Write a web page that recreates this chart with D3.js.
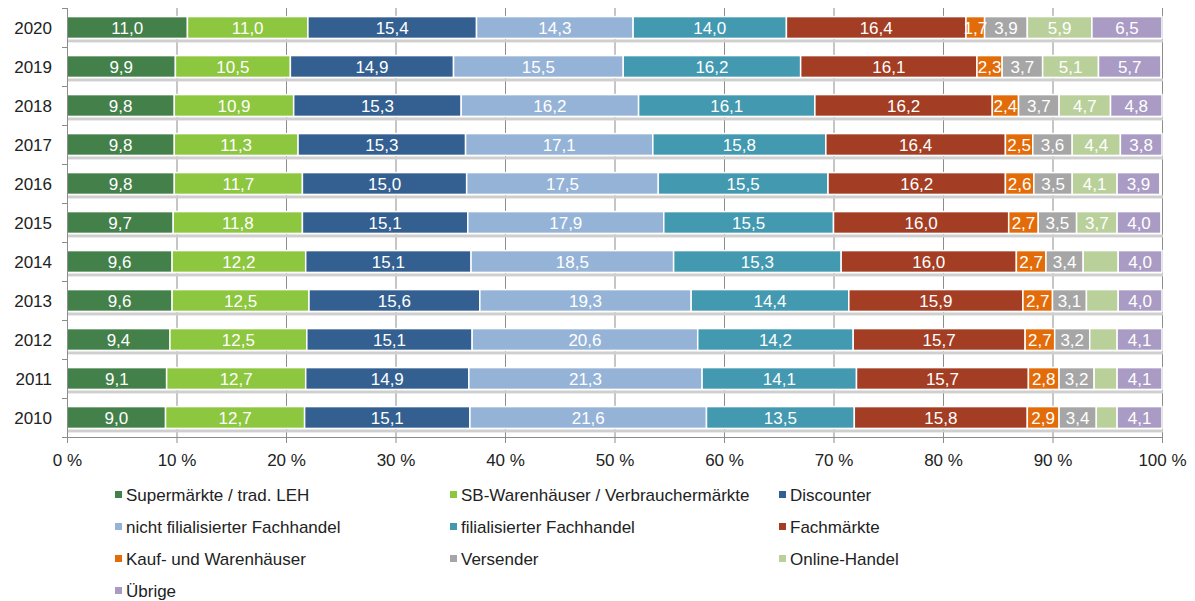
<!DOCTYPE html>
<html><head><meta charset="utf-8">
<script src="https://cdn.jsdelivr.net/npm/d3@7"></script>
<style>
body{margin:0;background:#fff;}
svg{display:block;font-family:"Liberation Sans",Arial,sans-serif;}
</style></head>
<body><svg id="c" width="1195" height="601"></svg>
<script>
const years = ["2020","2019","2018","2017","2016","2015","2014","2013","2012","2011","2010"];
const seriesNames = ["Supermärkte / trad. LEH","SB-Warenhäuser / Verbrauchermärkte","Discounter","nicht filialisierter Fachhandel","filialisierter Fachhandel","Fachmärkte","Kauf- und Warenhäuser","Versender","Online-Handel","Übrige"];
const colors = ["#43804a","#8dc63f","#345f91","#95b3d7","#4299b0","#a33e25","#e36c0a","#a6a6a6","#b9d09a","#a99bc3"];
const supermarkte = [11.0,9.9,9.8,9.8,9.8,9.7,9.6,9.6,9.4,9.1,9.0];
const sbWarenhaeuser = [11.0,10.5,10.9,11.3,11.7,11.8,12.2,12.5,12.5,12.7,12.7];
const discounter = [15.4,14.9,15.3,15.3,15.0,15.1,15.1,15.6,15.1,14.9,15.1];
const nichtFilial = [14.3,15.5,16.2,17.1,17.5,17.9,18.5,19.3,20.6,21.3,21.6];
const filial = [14.0,16.2,16.1,15.8,15.5,15.5,15.3,14.4,14.2,14.1,13.5];
const fachmaerkte = [16.4,16.1,16.2,16.4,16.2,16.0,16.0,15.9,15.7,15.7,15.8];
const kaufhaeuser = [1.7,2.3,2.4,2.5,2.6,2.7,2.7,2.7,2.7,2.8,2.9];
const versender = [3.9,3.7,3.7,3.6,3.5,3.5,3.4,3.1,3.2,3.2,3.4];
const onlineHandel = [5.9,5.1,4.7,4.4,4.1,3.7,3.2,2.9,2.5,2.1,1.9];
const uebrige = [6.5,5.7,4.8,3.8,3.9,4.0,4.0,4.0,4.1,4.1,4.1];
const unlabeledOnline = ["2014","2013","2012","2011","2010"];
const xTicks = [0,10,20,30,40,50,60,70,80,90,100];

const allSeries = [supermarkte,sbWarenhaeuser,discounter,nichtFilial,filial,fachmaerkte,kaufhaeuser,versender,onlineHandel,uebrige];
const svg = d3.select("#c");
const pL = 67, pR = 1162, pT = 8, pB = 437;
const FS = 17;
const x = d3.scaleLinear().domain([0,100]).range([pL,pR]).clamp(true);
const y = d3.scaleBand().domain(years).range([pT,pB]).paddingInner(0.44).paddingOuter(0.22);
const fmt = v => d3.format(".1f")(v).replace(".",",");

// gridlines
svg.append("g").selectAll("line").data(xTicks.slice(1)).join("line")
  .attr("x1",d=>x(d)+0.5).attr("x2",d=>x(d)+0.5).attr("y1",pT).attr("y2",pB)
  .attr("stroke","#8c8c8c").attr("stroke-width",1);

// shadows under rows
svg.append("g").selectAll("rect").data(years).join("rect")
  .attr("x",x(0)).attr("width",x(100)-x(0)+1)
  .attr("y",d=>y(d)+y.bandwidth()+1).attr("height",3)
  .attr("fill","#cfcfcf");

// stacked bars
const rows = years.map((yr,i)=>{
  let acc=0;
  return allSeries.map((s,k)=>{const seg={year:yr,k,v:s[i],x0:acc,x1:acc+s[i]};acc+=s[i];return seg;});
});
const segs = rows.flat();
svg.append("g").selectAll("rect").data(segs).join("rect")
  .attr("x",d=>x(d.x0)).attr("width",d=>Math.max(0,x(d.x1)-x(d.x0)))
  .attr("y",d=>y(d.year)).attr("height",y.bandwidth())
  .attr("fill",d=>colors[d.k]).attr("stroke","#fff").attr("stroke-width",1.5);

svg.append("g").selectAll("text").data(segs.filter(d=>!(d.k===8 && unlabeledOnline.includes(d.year)))).join("text")
  .attr("x",d=>(x(d.x0)+x(d.x1))/2).attr("y",d=>y(d.year)+y.bandwidth()/2)
  .attr("dy","0.36em").attr("text-anchor","middle")
  .attr("fill","#fff").attr("font-size",FS).text(d=>fmt(d.v));

// y axis
const yAxis = svg.append("g");
yAxis.append("line").attr("x1",pL+0.5).attr("x2",pL+0.5).attr("y1",pT).attr("y2",pB).attr("stroke","#8c8c8c");
const edges = d3.range(years.length+1).map(i=>pT+i*(pB-pT)/years.length);
yAxis.selectAll("line.t").data(edges).join("line").attr("class","t")
  .attr("x1",pL-5).attr("x2",pL).attr("y1",d=>Math.round(d)+0.5).attr("y2",d=>Math.round(d)+0.5).attr("stroke","#8c8c8c");
yAxis.selectAll("text").data(years).join("text")
  .attr("x",52).attr("y",d=>y(d)+y.bandwidth()/2).attr("dy","0.36em")
  .attr("text-anchor","end").attr("font-size",FS).attr("fill","#222").text(d=>d);

// x axis
const xa = svg.append("g").attr("transform",`translate(0,${pB})`)
  .call(d3.axisBottom(x).tickValues(xTicks).tickSize(6).tickFormat(d=>d+" %"));
xa.select(".domain").attr("stroke","#8c8c8c");
xa.selectAll(".tick line").attr("stroke","#8c8c8c");
xa.selectAll("text").attr("font-size",FS).attr("fill","#222").attr("dy","1.15em").attr("font-family","Liberation Sans, Arial, sans-serif");

// legend
const legCols = [115,450,779];
const legRows = [495,527,559,591];
const leg = svg.append("g").selectAll("g").data(seriesNames).join("g")
  .attr("transform",(d,i)=>`translate(${legCols[i%3]},${legRows[Math.floor(i/3)]})`);
leg.append("rect").attr("x",0).attr("y",-4).attr("width",7).attr("height",7).attr("fill",(d,i)=>colors[i]);
leg.append("text").attr("x",11).attr("dy","0.35em").attr("font-size",FS).attr("fill","#222").text(d=>d);
</script></body></html>
